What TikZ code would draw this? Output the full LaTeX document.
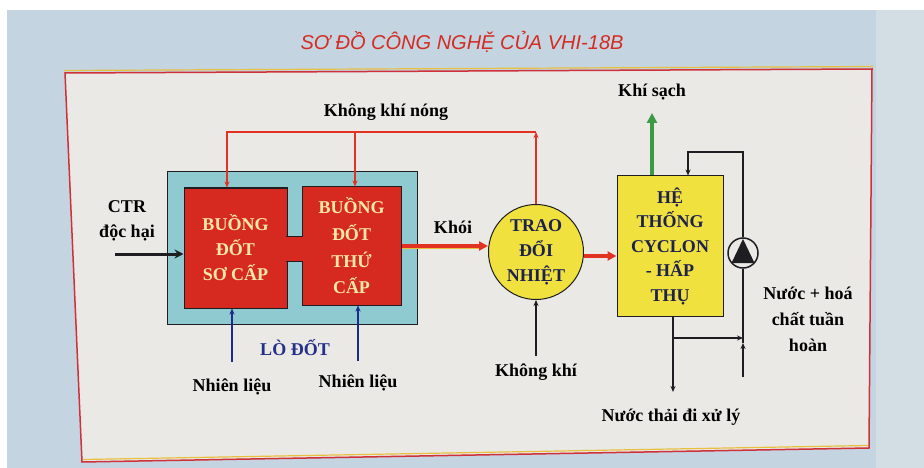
\documentclass[tikz,border=0pt]{standalone}
\usepackage{fontspec}
\setmainfont{Liberation Serif}
\newfontfamily\titlefont{Liberation Sans}
\usetikzlibrary{arrows.meta,calc}
\definecolor{bgblue}{HTML}{C4D4E0}
\definecolor{edgeblue}{HTML}{D2DDE4}
\definecolor{panelbg}{HTML}{EAE9E6}
\definecolor{panelred}{HTML}{D0303A}
\definecolor{panelyel}{HTML}{E8C040}
\definecolor{lightteal}{HTML}{8FCAD0}
\definecolor{furred}{HTML}{D62A20}
\definecolor{cream}{HTML}{F6E9A6}
\definecolor{yel}{HTML}{F1E13E}
\definecolor{navytext}{HTML}{1C2150}
\definecolor{lonavy}{HTML}{24308A}
\definecolor{bluearr}{HTML}{1B2A8C}
\definecolor{grn}{HTML}{3C9A45}
\definecolor{arrred}{HTML}{E23222}
\definecolor{darkline}{HTML}{1E1E22}
\definecolor{titlered}{HTML}{D42B22}
\begin{document}
\begin{tikzpicture}[x=1pt,y=-1pt,
  lab/.style={font=\fontsize{18}{25}\selectfont\bfseries, text=black, align=center, inner sep=0pt},
  redbox/.style={draw=darkline, line width=1pt, fill=furred, inner sep=0pt, text=cream, align=center},
  yelshape/.style={draw=darkline, line width=1pt, fill=yel, inner sep=0pt, text=navytext, align=center},
  tipS/.style={-{Stealth[length=9pt,width=9pt]}},
  tipL/.style={-{Triangle[length=9pt,width=9pt]}},
  blk/.style={draw=darkline, line width=2.4pt},
  hot/.style={draw=arrred, line width=1.8pt},
  fuel/.style={draw=bluearr, line width=2pt},
  redarrow/.style={draw=arrred, line width=3.5pt},
]
\useasboundingbox (0,0) rectangle (924,468);
% background
\fill[white] (0,0) rectangle (924,468);
\fill[bgblue] (7,10) rectangle (876,468);
\fill[edgeblue] (876,10) rectangle (924,468);
% panel
\fill[panelbg] (65,73) -- (872,69) -- (869,448) -- (82,462) -- cycle;
\draw[panelyel, line width=1.2pt] (64,70.5) -- (873,66.5);
\draw[panelyel, line width=1.2pt] (83,459.5) -- (868,445.5);
\draw[panelred, line width=1.5pt] (65,73) -- (872,69) -- (869,448) -- (82,462) -- cycle;

% title
\node[font=\titlefont\itshape\fontsize{20}{24}\selectfont, text=titlered, inner sep=0pt] (title) at (462,42) {SƠ ĐỒ CÔNG NGHỆ CỦA VHI-18B};

% furnace
\node[draw=darkline, line width=1pt, fill=lightteal, minimum width=250pt, minimum height=152pt, inner sep=0pt] (lo) at (292,248) {};
\node[redbox, minimum width=103pt, minimum height=120pt, font=\fontsize{18}{25}\selectfont\bfseries] (b1) at (235.5,248) {BUỒNG\\ĐỐT\\SƠ CẤP};
\node[redbox, minimum width=99pt, minimum height=118pt, font=\fontsize{18}{26.7}\selectfont\bfseries] (b2) at (351.5,246) {BUỒNG\\ĐỐT\\THỨ\\CẤP};
\node[fill=furred, minimum width=17pt, minimum height=24pt, inner sep=0pt] (link) at (294.5,249) {};
\draw[darkline, line width=0.8pt] (link.north west) -- (link.north east) (link.south west) -- (link.south east);

% heat exchanger
\node[yelshape, circle, minimum size=95pt, font=\fontsize{18}{25}\selectfont\bfseries] (tx) at (536,252) {TRAO\\ĐỔI\\NHIỆT};
% cyclon
\node[yelshape, minimum width=106pt, minimum height=140pt, font=\fontsize{18}{24.5}\selectfont\bfseries] (hb) at (670,246) {HỆ\\THỐNG\\CYCLON\\- HẤP\\THỤ};

% labels
\node[lab] (ctr) at (127,221) {CTR\\độc hại};
\node[lab] (khoi) at (453,227) {Khói};
\node[lab] (kkn) at (386,112) {Không khí nóng};
\node[lab] (ks) at (652,92) {Khí sạch};
\node[lab] (kk) at (536,372) {Không khí};
\node[lab] (nl1) at (232,387) {Nhiên liệu};
\node[lab] (nl2) at (358,383) {Nhiên liệu};
\node[lab, text=lonavy] (lodot) at (295,348) {LÒ ĐỐT};
\node[lab] (ntxl) at (671,417) {Nước thải đi xử lý};
\node[lab, font=\fontsize{18}{26}\selectfont\bfseries] (nuoc) at (808,319) {Nước + hoá\\chất tuần\\hoàn};

% coordinates
\coordinate (ctrs) at (115,254);
\coordinate (h1) at (227,132);
\coordinate (h2) at (355,132);
\coordinate (h3) at (536,132);
\coordinate (n1) at (232,362);
\coordinate (n2) at (358,361);
\coordinate (kks) at (536,356);
\coordinate (kse) at (652,113);
\coordinate (c1) at (688,152);
\coordinate (c2) at (743,152);
\coordinate (c3) at (743,377);
\coordinate (c4) at (743,343);
\coordinate (o1) at (673,338);
\coordinate (o2) at (673,392);

% CTR in
\draw[blk, line width=3pt, tipS] (ctrs) -- (ctrs -| b1.west);
% hot air
\draw[hot, -{Stealth[length=6pt,width=5pt]}] (tx.north) -- (h3);
\draw[hot, -{Stealth[length=6pt,width=5pt]}] (h3) -- (h1) -- (h1 |- b1.north);
\draw[hot, -{Stealth[length=6pt,width=5pt]}] (h2) -- (h2 |- b2.north);
% smoke
\draw[panelyel, line width=1pt] ([yshift=-2pt]b2.east) -- ([xshift=-9pt,yshift=-2pt]b2.east -| tx.west);
\draw[redarrow, tipL] (b2.east) -- (b2.east -| tx.west);
\draw[redarrow, tipL] ([yshift=-4pt]tx.east) -- ([yshift=-4pt]tx.east -| hb.west);
% fuel
\draw[fuel, -{Stealth[length=6pt,width=5pt]}] (n1) -- (n1 |- b1.south);
\draw[fuel, -{Stealth[length=6pt,width=5pt]}] (n2) -- (n2 |- b2.south);
% air
\draw[blk, line width=2pt, -{Stealth[length=6pt,width=5pt]}] (kks) -- (tx.south);
% clean gas
\draw[draw=grn, line width=3.5pt, -{Triangle[length=10pt,width=10pt]}] (kse |- hb.north) -- (kse);
% recirculation loop
\node[circle, draw=darkline, line width=1.5pt, fill=panelbg, minimum size=30pt, inner sep=0pt] (pump) at (743,253) {};
\fill[darkline] (743,239) -- (754.5,263) -- (731.5,263) -- cycle;
\draw[blk, -{Stealth[length=6pt,width=5pt]}] (c3) -- (c4);
\draw[blk] (c4) -- (pump.south);
\draw[blk, -{Stealth[length=6pt,width=5pt]}] (pump.north) -- (c2) -- (c1) -- (c1 |- hb.north);
\draw[blk, -{Stealth[length=6pt,width=5pt]}] (o1 |- hb.south) -- (o2);
\draw[blk, -{Stealth[length=6pt,width=5pt]}] (o1) -- (o1 -| c2);
\end{tikzpicture}
\end{document}
